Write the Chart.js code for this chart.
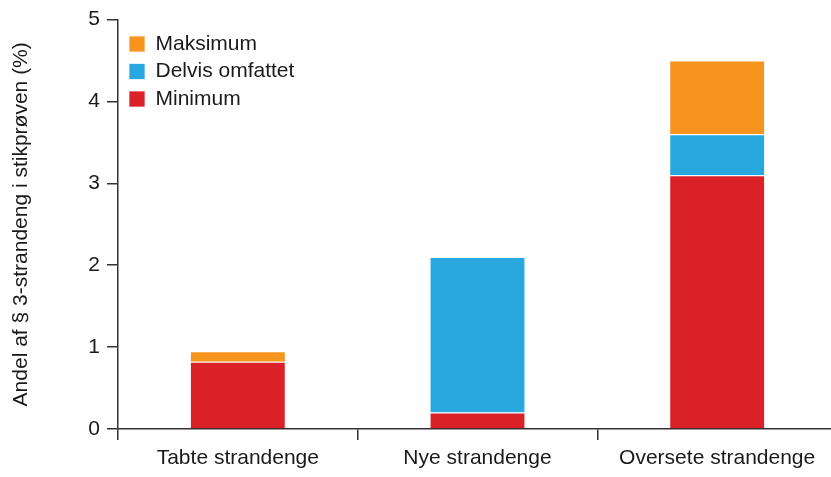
<!DOCTYPE html>
<html>
<head>
<meta charset="utf-8">
<script src="https://cdn.jsdelivr.net/npm/chart.js@4.4.0/dist/chart.umd.min.js"></script>
<style>
  html, body { margin: 0; padding: 0; background: #fff; overflow: hidden; }
  #wrap { width: 837px; height: 477px; }
</style>
</head>
<body>
<div id="wrap"><canvas id="myChart"></canvas></div>
<script>
var categories = ["Tabte strandenge", "Nye strandenge", "Oversete strandenge"];
var minimum = [0.82, 0.2, 3.1];
var delvis = [0, 1.9, 0.5];
var maksimum = [0.13, 0, 0.9];
var yTicks = [0, 1, 2, 3, 4, 5];

Chart.defaults.font.family = "'Liberation Sans', Arial, sans-serif";
Chart.defaults.color = "#1a1a1a";

var ctx = document.getElementById("myChart");
var edge = "rgba(255,255,255,0.7)";

// put the legend at a fixed spot inside the plot, like the original
var moveLegend = {
  id: 'moveLegend',
  afterLayout: function(chart) {
    var lg = chart.legend;
    if (!lg) return;
    var dx = 122.5 - lg.left;
    var dy = 27 - lg.top;
    lg.left += dx; lg.right += dx;
    lg.top += dy; lg.bottom += dy;
  }
};

var myChart = new Chart(ctx, {
  type: 'bar',
  data: {
    labels: categories,
    datasets: [
      { label: "Minimum", data: minimum, backgroundColor: "#DA2128", borderColor: edge, borderWidth: 1 },
      { label: "Delvis omfattet", data: delvis, backgroundColor: "#29A8E0", borderColor: edge, borderWidth: 1 },
      { label: "Maksimum", data: maksimum, backgroundColor: "#F7941E", borderColor: edge, borderWidth: 1 }
    ]
  },
  plugins: [moveLegend],
  options: {
    responsive: true,
    maintainAspectRatio: false,
    animation: false,
    layout: { padding: { top: 19, right: 0, bottom: 0, left: 0 } },
    datasets: { bar: { barPercentage: 0.4, categoryPercentage: 1 } },
    plugins: {
      tooltip: { enabled: false },
      legend: {
        position: 'chartArea',
        align: 'start',
        reverse: true,
        labels: {
          boxWidth: 16,
          boxHeight: 16,
          padding: 6.5,
          font: { size: 21 },
          color: "#1a1a1a"
        }
      }
    },
    scales: {
      x: {
        stacked: true,
        border: { display: true, color: "#333", width: 1.5 },
        grid: { display: true, offset: true, drawOnChartArea: false, drawTicks: true, tickLength: 11, color: "#333", lineWidth: 1.5 },
        ticks: { font: { size: 21 }, color: "#1a1a1a", padding: 6 },
        afterFit: function(scale) { scale.height = 48; }
      },
      y: {
        stacked: true,
        min: 0,
        max: 5,
        afterBuildTicks: function(scale) { scale.ticks = yTicks.map(function(v) { return { value: v }; }); },
        border: { display: true, color: "#333", width: 1.5 },
        grid: { display: true, drawOnChartArea: false, drawTicks: true, tickLength: 11, color: "#333", lineWidth: 1.5 },
        ticks: { font: { size: 21 }, color: "#1a1a1a", padding: 7 },
        title: {
          display: true,
          text: "Andel af § 3-strandeng i stikprøven (%)",
          font: { size: 21 },
          color: "#1a1a1a",
          padding: { top: 9, bottom: 4 }
        },
        afterFit: function(scale) { scale.width = 118; }
      }
    }
  }
});
</script>
</body>
</html>
